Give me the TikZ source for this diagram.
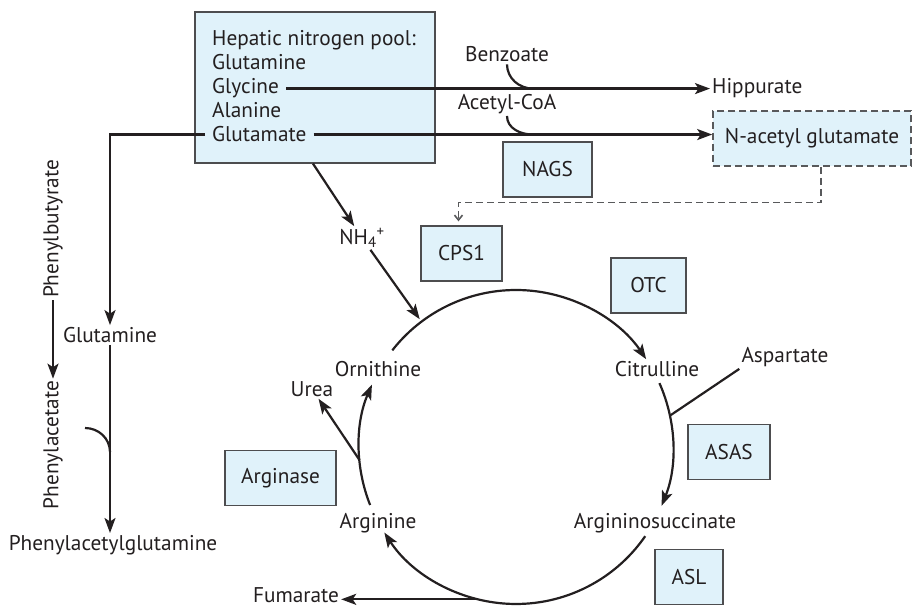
\documentclass[tikz,border=0pt]{standalone}
\usepackage{fontspec}
\setmainfont{PT Sans}
\usepackage{tikz}
\usetikzlibrary{positioning,arrows.meta,calc}
\definecolor{inkText}{HTML}{231F20}
\definecolor{boxFill}{HTML}{E0F2FA}
\definecolor{boxStroke}{HTML}{4D4D4F}
\definecolor{dashStroke}{HTML}{58595B}

\begin{document}
\begin{tikzpicture}[
  x=1pt, y=1pt,
  font=\fontsize{21.3}{24}\selectfont,
  every node/.style={text=inkText},
  enz/.style={draw=boxStroke, line width=1.3pt, fill=boxFill, minimum height=55pt, inner sep=0pt},
  lbl/.style={inner sep=2pt},
  flow/.style={-{Stealth[length=15pt,width=11pt,inset=3.5pt]}, line width=2.2pt, draw=inkText},
  joinline/.style={line width=2.2pt, draw=inkText},
  dashflow/.style={-{Straight Barb[length=5pt,width=8pt]}, dash pattern=on 7pt off 4pt,
                   line width=1.6pt, draw=dashStroke},
]
\useasboundingbox (0,0) rectangle (913,608);

% ---------------- NITROGEN POOL ----------------
\node[enz, minimum width=240pt, minimum height=151pt] (POOL) at (315,520.5) {};
\node[lbl, anchor=base west] (poolHead) at (210,562) {Hepatic nitrogen pool:};
\node[lbl, anchor=base west] (gln) at (210,538) {Glutamine};
\node[lbl, anchor=base west] (gly) at (210,514) {Glycine};
\node[lbl, anchor=base west] (ala) at (210,490) {Alanine};
\node[lbl, anchor=base west] (glu) at (210,466) {Glutamate};

% ---------------- SIDE PRODUCTS ----------------
\node[lbl] (BENZ) at (507,553.5) {Benzoate};
\node[lbl, anchor=west] (HIPP) at (710,520) {Hippurate};
\node[lbl] (ACOA) at (507,504) {Acetyl-CoA};
\node[enz, draw=dashStroke, line width=1.6pt, dash pattern=on 7pt off 4pt,
      minimum width=198pt] (NAG) at (812,469.5) {N-acetyl glutamate};

% ---------------- ENZYMES ----------------
\node[enz, minimum width=89pt] (NAGS) at (547.5,438.5) {NAGS};
\node[enz, minimum width=81pt] (CPS) at (461.5,354.5) {CPS1};
\node[enz, minimum width=75pt] (OTC) at (648.5,322.5) {OTC};
\node[enz, minimum width=82pt] (ASAS) at (729,156) {ASAS};
\node[enz, minimum width=68pt] (ASL) at (689,31) {ASL};
\node[enz, minimum width=111pt] (ARGS) at (280.5,130) {Arginase};

% ---------------- CYCLE METABOLITES ----------------
\node[lbl] (NH) at (362,370) {NH\textsubscript{4}\textsuperscript{+}};
\node[lbl] (ORN) at (378,239) {Ornithine};
\node[lbl] (UREA) at (312,219) {Urea};
\node[lbl] (ARGN) at (378,85) {Arginine};
\node[lbl] (CIT) at (657,239) {Citrulline};
\node[lbl] (ASP) at (785,251) {Aspartate};
\node[lbl] (ASU) at (655,85) {Argininosuccinate};
\node[lbl, anchor=base] (FUM) at (296,6) {Fumarate};

% ---------------- ALTERNATIVE PATHWAY ----------------
\node[lbl] (GLN) at (110,273) {Glutamine};
\node[lbl] (PAG) at (113,63) {Phenylacetylglutamine};
\node[lbl, rotate=90] (PB) at (53,379) {Phenylbutyrate};
\node[lbl, rotate=90] (PA) at (53,163) {Phenylacetate};

% ---------------- CYCLE GEOMETRY ----------------
\coordinate (C) at (516,161);
\def\R{157}
\coordinate (nhIn) at ([shift={(127:160)}]C);
\coordinate (ureaOut) at ([shift={(184.8:\R)}]C);
\coordinate (fumOut) at ([shift={(256:\R)}]C);
\coordinate (aspIn) at ([shift={(11.5:\R)}]C);
\coordinate (paTail) at (85,180);
\coordinate (paMerge) at (110,156);

% ---------------- EDGES ----------------
\draw[flow] ([xshift=5pt]gly.east) -- (gly.east -| HIPP.west);
\draw[joinline] (BENZ.south) to[out=-90,in=180] ($(BENZ.south |- gly.east)+(26,0)$);
\draw[flow] ([xshift=5pt]glu.east) -- (glu.east -| NAG.west);
\draw[joinline] (ACOA.south) to[out=-90,in=180] ($(ACOA.south |- glu.east)+(26,0)$);
% NAG activates CPS1
\draw[dashflow] ([xshift=9pt]NAG.south) |- ([xshift=-3pt,yshift=23pt]CPS.north)
  -- ([xshift=-3pt,yshift=4pt]CPS.north);
\draw[flow] ([xshift=-2pt]POOL.south) -- (NH);
\draw[flow] (NH) -- (nhIn);
% urea cycle
\draw[flow] ([shift={(142:\R)}]C) arc[start angle=142, end angle=34, radius=\R];
\draw[flow] ([shift={(24:\R)}]C) arc[start angle=24, end angle=-22, radius=\R];
\draw[flow] ([shift={(-34.6:\R)}]C) arc[start angle=-34.6, end angle=-147, radius=\R];
\draw[flow] ([shift={(201.7:\R)}]C) arc[start angle=201.7, end angle=156.6, radius=\R];
\draw[flow] (ureaOut) -- (UREA);
\draw[flow] (fumOut) -- (fumOut -| FUM.east);
\draw[joinline] (ASP.south west) -- (aspIn);
% glutamine route
\draw[flow] ([xshift=-5pt]glu.west) -| (GLN.north);
\draw[flow] (GLN.south) -- (GLN.south |- PAG.north);
\draw[joinline] (paTail) to[out=0,in=90] (GLN.south |- paMerge);
\draw[flow] (PB.west) -- (PA.east);
\end{tikzpicture}
\end{document}
